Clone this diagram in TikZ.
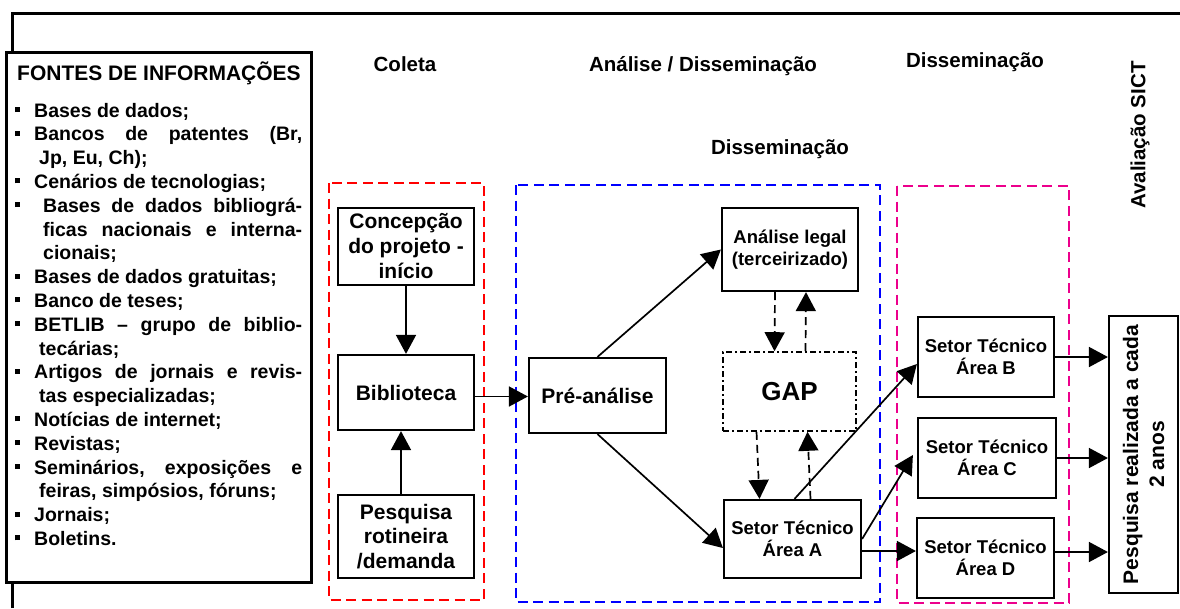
\documentclass[tikz,border=0pt]{standalone}
\usepackage{fontspec}
\setmainfont{Liberation Sans}
\usetikzlibrary{arrows.meta,calc}

% bullet used in the list of sources
\newcommand\blt[1]{\makebox[#1][l]{\rule[5pt]{5pt}{5pt}}}

\tikzset{
  box/.style={draw, line width=2.2pt, fill=white, align=center, inner sep=0pt,
    font=\bfseries\fontsize{21}{25}\selectfont},
  smallbox/.style={box, font=\bfseries\fontsize{18.5}{22}\selectfont},
  conn/.style={line width=1.7pt, -{Triangle[length=19pt,width=20pt]}},
  dconn/.style={conn, dash pattern=on 8pt off 5pt},
  group/.style={line width=2.8pt, dash pattern=on 10pt off 5.5pt},
  head/.style={inner sep=0pt, font=\bfseries\fontsize{20.5}{24}\selectfont},
  lst/.style={anchor=base west, inner sep=0pt, font=\bfseries\fontsize{19.5}{23}\selectfont},
}

\begin{document}
\begin{tikzpicture}[x=1pt,y=-1pt]
\useasboundingbox (0,0) rectangle (1180,608);

% outer frame
\draw[line width=3pt] (12,608) -- (12,13.5) -- (1180,13.5);

% sources panel
\node[draw, line width=2.2pt, fill=white, minimum width=305pt, minimum height=530pt, inner sep=0pt]
  (fontes) at (159,317.5) {};
\node[anchor=base, inner sep=0pt, font=\bfseries\fontsize{21}{25}\selectfont] (ftitle) at (159,80) {FONTES DE INFORMAÇÕES};
\node[lst] (l1)  at (15,117.0) {\blt{19pt}Bases de dados;};
\node[lst] (l2)  at (15,140.8) {\blt{19pt}\hbox to 268pt{Bancos\hfill de\hfill patentes\hfill (Br,}};
\node[lst] (l3)  at (39,164.6) {Jp, Eu, Ch);};
\node[lst] (l4)  at (15,188.4) {\blt{19pt}Cenários de tecnologias;};
\node[lst] (l5)  at (15,212.2) {\blt{28pt}\hbox to 259pt{Bases\hfill de\hfill dados\hfill bibliográ-}};
\node[lst] (l6)  at (43,236.0) {\hbox to 259pt{ficas\hfill nacionais\hfill e\hfill interna-}};
\node[lst] (l7)  at (43,259.8) {cionais;};
\node[lst] (l8)  at (15,283.6) {\blt{19pt}Bases de dados gratuitas;};
\node[lst] (l9)  at (15,307.4) {\blt{19pt}Banco de teses;};
\node[lst] (l10) at (15,331.2) {\blt{19pt}\hbox to 268pt{BETLIB\hfill –\hfill grupo\hfill de\hfill biblio-}};
\node[lst] (l11) at (39,355.0) {tecárias;};
\node[lst] (l12) at (15,378.8) {\blt{19pt}\hbox to 268pt{Artigos\hfill de\hfill jornais\hfill e\hfill revis-}};
\node[lst] (l13) at (39,402.6) {tas especializadas;};
\node[lst] (l14) at (15,426.4) {\blt{19pt}Notícias de internet;};
\node[lst] (l15) at (15,450.2) {\blt{19pt}Revistas;};
\node[lst] (l16) at (15,474.0) {\blt{19pt}\hbox to 268pt{Seminários,\hfill exposições\hfill e}};
\node[lst] (l17) at (39,497.8) {feiras, simpósios, fóruns;};
\node[lst] (l18) at (15,521.6) {\blt{19pt}Jornais;};
\node[lst] (l19) at (15,545.4) {\blt{19pt}Boletins.};

% stage headings
\node[head] (hcol)  at (405,64)  {Coleta};
\node[head] (hana)  at (703,66)  {Análise / Disseminação};
\node[head] (hdis1) at (975,62)  {Disseminação};
\node[head] (hdis2) at (780,149) {Disseminação};
\node[head, rotate=90] (haval) at (1140,135) {Avaliação SICT};

% stage groups
\draw[group, red]     (329,183) rectangle (484,600);
\draw[group, blue]    (516,185) rectangle (880,602);
\draw[group, magenta] (897,186) rectangle (1069,603);

% process boxes
\node[box, minimum width=136pt, minimum height=77pt] (conc) at (406,246.5) {Concepção\\do projeto -\\início};
\node[box, minimum width=136pt, minimum height=75pt] (bib)  at (406,392.5) {Biblioteca};
\node[box, minimum width=136pt, minimum height=83pt, font=\bfseries\fontsize{21}{24.5}\selectfont] (prq) at (406,536.5) {Pesquisa\\rotineira\\/demanda};
\node[box, minimum width=137pt, minimum height=75pt] (pre)  at (597.5,395.5) {Pré-análise};
\node[smallbox, minimum width=136pt, minimum height=83pt] (legal) at (790,249.5) {Análise legal\\(terceirizado)};
\node[box, minimum width=133pt, minimum height=79pt, line width=1.6pt,
      dash pattern=on 6pt off 3pt on 2pt off 3pt, font=\bfseries\fontsize{26}{30}\selectfont] (gap) at (789.5,391.5) {GAP};
\node[smallbox, minimum width=137pt, minimum height=78pt] (setA) at (792.5,539) {Setor Técnico\\Área A};
\node[smallbox, minimum width=136pt, minimum height=80pt] (setB) at (986,357) {Setor Técnico\\Área B};
\node[smallbox, minimum width=138pt, minimum height=80pt] (setC) at (987,458) {Setor Técnico\\Área C};
\node[smallbox, minimum width=137pt, minimum height=80pt] (setD) at (985.5,558) {Setor Técnico\\Área D};
\node[box, minimum width=69pt, minimum height=277pt] (pesq) at (1143.5,454.5) {};
\node[rotate=90, align=center, inner sep=0pt, font=\bfseries\fontsize{21}{26}\selectfont] (pesqtxt) at (pesq.center) {Pesquisa realizada a cada\\2 anos};

% connectors
\draw[conn] (conc.south) -- (bib.north);
\draw[conn] ([xshift=-5pt]prq.north) -- ([xshift=-5pt]bib.south);
\coordinate (bo) at ($(bib.east)+(0,4)$);
\draw[conn] (bo) -- (bo -| pre.west);
\draw[conn] (pre.north) -- (legal.west);
\draw[conn] (pre.south) -- ($(setA.west)+(0,9)$);

\draw[dconn] ($(legal.south)+(-15,0)$) -- ($(gap.north)+(-15,0)$);
\draw[dconn] ($(gap.north)+(16,0)$) -- ($(legal.south)+(16,0)$);
\draw[dconn] ($(gap.south)+(-33,0)$) -- ($(setA.north)+(-33,0)$);
\draw[dconn] ($(setA.north)+(18,0)$) -- ($(gap.south)+(18,0)$);

\draw[conn] ($(setA.north)+(2,0)$) -- ($(setB.west)+(0,7)$);
\draw[conn] (setA.east) -- ($(setC.west)+(-4,-3)$);
\coordinate (ad) at ($(setA.east)+(0,12)$);
\draw[conn] (ad) -- (ad -| setD.west);

\draw[conn] (setB.east) -- (setB.east -| pesq.west);
\draw[conn] (setC.east) -- (setC.east -| pesq.west);
\coordinate (dd) at ($(setD.east)+(0,-6)$);
\draw[conn] (dd) -- (dd -| pesq.west);
\end{tikzpicture}
\end{document}
